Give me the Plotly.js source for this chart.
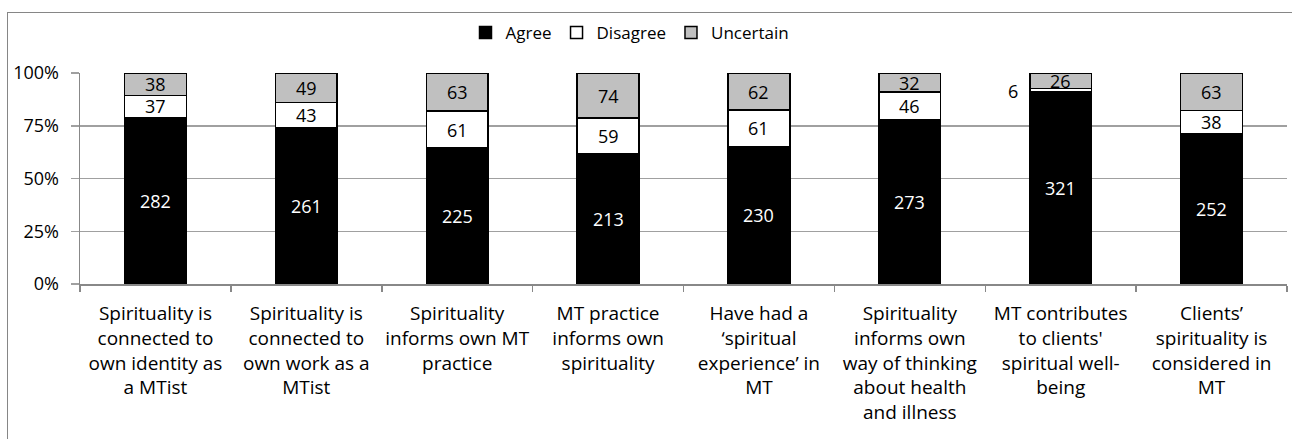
<!DOCTYPE html>
<html>
<head>
<meta charset="utf-8">
<script src="https://cdn.plot.ly/plotly-3.0.1.min.js"></script>
<style>
html,body{margin:0;padding:0;background:#fff;}
#wrap{position:relative;width:1292px;height:439px;overflow:hidden;}
#chart{width:1292px;height:439px;}
#frame{position:absolute;left:7px;top:12px;width:1300px;height:440px;border-left:1.5px solid #868686;border-top:1.5px solid #868686;pointer-events:none;}
</style>
</head>
<body>
<div id="wrap"><div id="chart"></div><div id="frame"></div></div>
<script>
const categories = [
  "Spirituality is<br>connected to<br>own identity as<br>a MTist",
  "Spirituality is<br>connected to<br>own work as a<br>MTist",
  "Spirituality<br>informs own MT<br>practice",
  "MT practice<br>informs own<br>spirituality",
  "Have had a<br>‘spiritual<br>experience’ in<br>MT",
  "Spirituality<br>informs own<br>way of thinking<br>about health<br>and illness",
  "MT contributes<br>to clients'<br>spiritual well-<br>being",
  "Clients’<br>spirituality is<br>considered in<br>MT"
];
const agree     = [282, 261, 225, 213, 230, 273, 321, 252];
const disagree  = [37, 43, 61, 59, 61, 46, 6, 38];
const uncertain = [38, 49, 63, 74, 62, 32, 26, 63];
const seriesNames = ["Agree", "Disagree", "Uncertain"];
const yTicks = [0, 25, 50, 75, 100];
const yTickText = ["0%", "25%", "50%", "75%", "100%"];

const FONT = "'Open Sans', sans-serif";
const lineStyle = {color: "#000", width: 1.5};

const common = {type: "bar", x: categories, hoverinfo: "skip", textposition: "none"};

const traces = [
  Object.assign({}, common, {name: seriesNames[0], y: agree, marker: {color: "#000000", line: lineStyle}}),
  Object.assign({}, common, {name: seriesNames[1], y: disagree, marker: {color: "#ffffff", line: lineStyle}}),
  Object.assign({}, common, {name: seriesNames[2], y: uncertain, marker: {color: "#c0c0c0", line: lineStyle}})
];

// value labels placed at the middle of each stacked segment (percent scale)
const annotations = [];
categories.forEach((c, i) => {
  const tot = agree[i] + disagree[i] + uncertain[i];
  const segs = [[agree[i], "#fff"], [disagree[i], "#000"], [uncertain[i], "#000"]];
  let base = 0;
  segs.forEach(([v, col], k) => {
    const mid = (base + v / 2) / tot * 100;
    const small = v / tot < 0.05;
    annotations.push({x: c, y: mid, xref: "x", yref: "y", text: String(v), showarrow: false,
      xshift: small ? -48 : 0, yshift: small ? -1 : 0,
      font: {family: FONT, size: 18, color: col}});
    base += v;
  });
});

const layout = {
  width: 1292, height: 439,
  margin: {l: 80, r: 5, t: 73, b: 155},
  barmode: "stack", barnorm: "percent", bargap: 0.59,
  paper_bgcolor: "#fff", plot_bgcolor: "#fff",
  font: {family: FONT, size: 18, color: "#000"},
  showlegend: true,
  legend: {orientation: "h", x: 630 / 1292, xanchor: "center", xref: "container",
    y: 1 - 33 / 439, yref: "container", yanchor: "middle",
    font: {family: FONT, size: 17, color: "#000"}, traceorder: "normal", itemwidth: 30},
  xaxis: {type: "category", tickson: "boundaries", ticks: "outside", ticklen: 6, tickcolor: "#888", tickwidth: 1.5,
    showline: true, linecolor: "#888", linewidth: 1.5, showgrid: false, automargin: false,
    tickangle: 0, ticklabelstandoff: 12,
    tickfont: {family: FONT, size: 19, color: "#000"}},
  yaxis: {range: [0, 100], tickvals: yTicks, ticktext: yTickText, ticks: "outside", ticklen: 8, tickcolor: "#a0a0a0",
    tickwidth: 1.5, showline: true, linecolor: "#888", linewidth: 1.5, showgrid: true, gridcolor: "#a0a0a0", gridwidth: 1.5,
    zeroline: false, automargin: false, ticklabelstandoff: 8,
    tickfont: {family: FONT, size: 18, color: "#000"}},
  annotations: annotations
};

Plotly.newPlot("chart", traces, layout, {displayModeBar: false, staticPlot: true});
</script>
</body>
</html>
